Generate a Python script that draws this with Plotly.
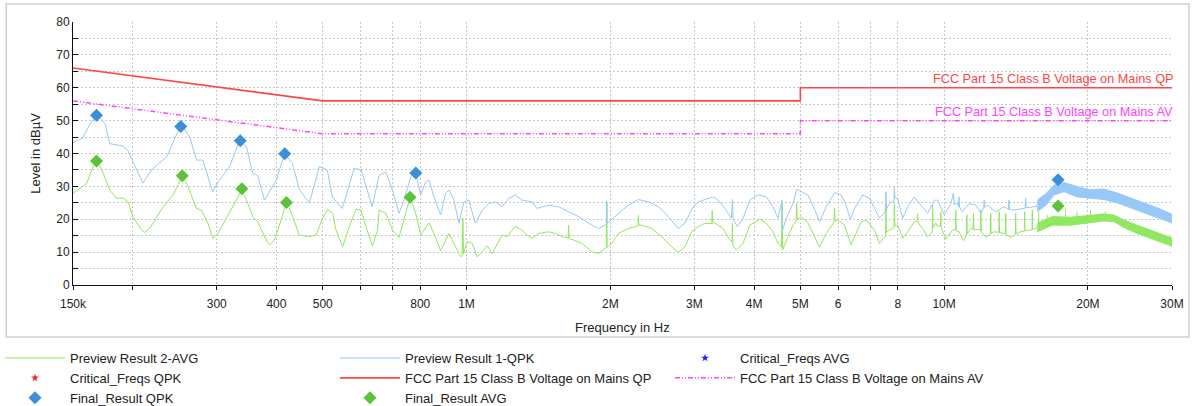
import plotly.graph_objects as go

# ---------------- data (frequencies in MHz, levels in dBµV) ----------------
qpk_f = [0.150, 0.157, 0.1628, 0.1681, 0.1749, 0.1791, 0.1906, 0.1952, 0.2100, 0.2204,
         0.2358, 0.2474, 0.2534, 0.2633, 0.2723, 0.2803, 0.2941, 0.3042, 0.3192, 0.3348,
         0.3463, 0.3565, 0.3652, 0.3776, 0.4000, 0.4157, 0.4320, 0.4468, 0.4688, 0.4919,
         0.5111, 0.5236, 0.5494, 0.5820, 0.6019, 0.6255, 0.6346, 0.6563, 0.6778, 0.6996,
         0.7225, 0.7401, 0.7643, 0.7829, 0.8018, 0.8214, 0.8346, 0.8549, 0.8827, 0.9043,
         0.9188, 0.9411, 0.9640, 0.9875, 1.011, 1.044, 1.079, 1.114, 1.150, 1.187,
         1.226, 1.266, 1.307, 1.371, 1.404, 1.486, 1.559, 1.636, 1.716, 1.801,
         1.890, 1.962, 1.966, 1.970, 2.081, 2.183, 2.291, 2.403, 2.521, 2.646,
         2.776, 2.867, 2.984, 3.057, 3.157, 3.285, 3.364, 3.474, 3.586, 3.604,
         3.616, 3.692, 3.794, 3.918, 4.078, 4.244, 4.383, 4.490, 4.577, 4.590,
         4.673, 4.825, 4.912, 5.022, 5.186, 5.312, 5.486, 5.663, 5.896, 6.087,
         6.235, 6.367, 6.492, 6.756, 6.977, 7.147, 7.320, 7.540, 7.556, 7.570,
         7.681, 7.850, 7.868, 7.885, 7.994, 8.189, 8.388, 8.663, 8.942, 9.235,
         9.538, 9.690, 10.01, 10.33, 10.46, 10.50, 10.67, 10.72, 10.75, 10.78,
         10.92, 11.29, 11.65, 11.94, 12.10, 12.13, 12.16, 12.32, 12.82, 13.36,
         13.64, 13.67, 13.70, 14.01, 14.70, 14.78, 14.81, 14.84, 15.42, 15.67]
qpk_db = [43.3, 44.6, 49.0, 51.7, 49.2, 43.0, 42.3, 41.0, 31.0, 35.5,
          39.0, 46.0, 48.6, 45.0, 38.0, 38.0, 28.4, 32.0, 36.0, 44.0,
          42.0, 34.0, 33.4, 25.8, 32.0, 40.0, 37.0, 29.0, 24.9, 36.0,
          35.0, 26.8, 23.3, 35.5, 35.0, 27.0, 23.8, 33.4, 34.4, 28.9,
          21.8, 25.8, 32.9, 34.1, 27.4, 31.4, 31.9, 26.8, 21.3, 27.9,
          28.9, 25.8, 18.8, 25.3, 25.8, 18.8, 22.8, 24.8, 25.3, 23.8,
          26.4, 27.4, 25.8, 25.3, 23.3, 24.3, 23.8, 22.3, 20.8, 18.8,
          17.2, 18.5, 25.5, 18.8, 21.8, 24.3, 26.0, 25.3, 23.8, 20.8,
          17.2, 18.8, 23.8, 25.3, 26.0, 26.8, 25.8, 23.3, 20.3, 26.0,
          20.0, 17.7, 20.3, 25.8, 27.4, 26.8, 23.8, 20.3, 25.8, 16.7,
          20.3, 24.8, 29.1, 28.4, 27.4, 24.3, 19.2, 23.8, 28.1, 27.4,
          24.3, 19.8, 23.3, 27.4, 26.4, 23.3, 20.3, 22.5, 28.4, 23.0,
          24.8, 25.5, 29.7, 26.5, 26.4, 20.3, 23.8, 26.8, 24.3, 21.8,
          25.8, 25.8, 21.3, 24.8, 27.9, 24.5, 24.8, 23.8, 26.8, 23.5,
          22.3, 24.8, 24.3, 21.8, 23.5, 25.8, 23.6, 24.3, 22.3, 23.8,
          23.0, 25.8, 23.0, 22.8, 23.3, 23.4, 26.4, 23.5, 23.8, 24.0]

# dense (noise band) part of the QPK preview, upper and lower edges
qpk_band_f = [15.67, 16.40, 16.99, 17.83, 18.99, 20.25, 21.60, 23.03, 24.55, 26.18, 27.92, 30.0]
qpk_band_hi = [25.8, 28.0, 30.4, 31.2, 29.9, 29.0, 29.2, 28.0, 26.5, 25.0, 23.5, 21.5]
qpk_band_lo = [22.3, 24.5, 27.4, 28.4, 26.8, 26.4, 26.0, 25.0, 23.5, 22.0, 20.5, 18.9]

avg_f = [0.150, 0.1564, 0.1602, 0.1653, 0.1686, 0.1735, 0.1791, 0.1850, 0.1909, 0.1955,
         0.2003, 0.2087, 0.2120, 0.2173, 0.2316, 0.2431, 0.2542, 0.2612, 0.2719, 0.2785,
         0.2875, 0.2945, 0.3017, 0.3142, 0.3243, 0.3386, 0.3485, 0.3570, 0.3657, 0.3807,
         0.3868, 0.3962, 0.4091, 0.4204, 0.4326, 0.4468, 0.4688, 0.4842, 0.4997, 0.5119,
         0.5244, 0.5330, 0.5502, 0.5682, 0.5868, 0.6010, 0.6157, 0.6356, 0.651, 0.6563,
         0.6778, 0.6996, 0.7225, 0.7401, 0.7617, 0.7829, 0.8018, 0.8346, 0.8549, 0.8827,
         0.9188, 0.9411, 0.9719, 0.9790, 0.9827, 0.9860, 1.003, 1.028, 1.052, 1.079,
         1.105, 1.132, 1.187, 1.216, 1.266, 1.307, 1.339, 1.371, 1.416, 1.486,
         1.535, 1.584, 1.632, 1.636, 1.640, 1.662, 1.744, 1.830, 1.890, 1.951,
         1.962, 1.966, 1.970, 2.015, 2.081, 2.183, 2.287, 2.291, 2.295, 2.327,
         2.442, 2.562, 2.688, 2.776, 2.867, 2.959, 3.057, 3.157, 3.262, 3.269,
         3.276, 3.312, 3.446, 3.559, 3.597, 3.604, 3.611, 3.675, 3.794, 3.918,
         4.111, 4.244, 4.383, 4.490, 4.565, 4.577, 4.590, 4.711, 4.825, 4.900,
         4.912, 4.925, 5.022, 5.186, 5.312, 5.486, 5.663, 5.880, 5.896, 5.910,
         5.991, 6.187, 6.387, 6.541, 6.701, 6.864, 7.147, 7.320, 7.540, 7.556,
         7.570, 7.681, 7.850, 7.868, 7.885, 7.994, 8.189, 8.388, 8.663, 8.790,
         8.801, 8.815, 9.016, 9.235, 9.440, 9.460, 9.480, 9.611, 9.690, 9.830,
         9.845, 9.860, 10.08, 10.41, 10.56, 10.58, 10.60, 10.75, 10.98, 11.14,
         11.16, 11.18, 11.38, 11.50, 11.52, 11.54, 11.85, 11.92, 11.94, 11.96,
         12.23, 12.50, 12.52, 12.54, 12.73, 13.02, 13.04, 13.06, 13.36, 13.44,
         13.46, 13.48, 13.78, 14.10, 14.12, 14.14, 14.46, 14.72, 14.74, 14.76,
         15.06, 15.28, 15.30, 15.32, 15.67]
avg_db = [27.9, 29.9, 30.9, 36.0, 38.0, 34.0, 28.9, 26.4, 26.5, 25.3,
          20.8, 16.7, 16.0, 17.3, 23.8, 27.4, 33.4, 29.9, 23.3, 22.8,
          18.8, 14.2, 15.7, 20.3, 23.8, 28.9, 24.8, 20.8, 19.2, 13.7,
          12.2, 13.7, 19.8, 25.3, 20.8, 15.2, 14.7, 15.2, 20.3, 23.0,
          21.8, 16.7, 11.6, 17.7, 23.0, 22.8, 17.7, 11.9, 16.7, 22.8,
          21.8, 16.7, 14.5, 19.8, 26.7, 21.8, 15.2, 18.9, 15.7, 10.4,
          15.7, 12.7, 8.6, 9.0, 20.3, 9.5, 13.2, 12.7, 8.6, 10.1,
          11.9, 9.6, 15.2, 14.7, 17.9, 16.7, 15.2, 14.2, 15.7, 16.2,
          15.7, 14.7, 14.3, 18.2, 14.0, 13.9, 12.7, 10.1, 9.6, 11.2,
          11.4, 25.3, 11.5, 12.7, 15.7, 17.2, 18.0, 21.3, 18.2, 18.2,
          17.2, 14.7, 11.6, 9.9, 11.6, 16.2, 17.7, 18.8, 18.7, 22.6,
          18.8, 18.9, 17.2, 13.7, 13.0, 18.8, 12.0, 10.6, 12.7, 18.2,
          20.0, 18.8, 16.2, 12.7, 11.5, 24.8, 10.6, 14.7, 18.2, 19.5,
          24.8, 20.0, 20.8, 18.9, 15.7, 11.5, 15.7, 19.0, 23.3, 19.5,
          19.8, 18.2, 12.2, 15.7, 19.2, 19.8, 16.7, 12.7, 15.0, 24.8,
          16.0, 16.7, 17.5, 24.8, 18.0, 18.2, 14.2, 16.2, 19.2, 19.5,
          21.8, 19.0, 17.2, 14.7, 16.0, 24.3, 17.5, 18.8, 17.9, 18.0,
          22.3, 17.5, 13.9, 16.7, 16.8, 22.8, 16.5, 16.2, 13.5, 15.0,
          21.3, 15.5, 17.2, 17.0, 21.8, 16.8, 16.9, 16.5, 22.8, 16.3,
          14.5, 15.5, 21.8, 15.7, 16.2, 16.0, 22.3, 15.9, 15.7, 15.6,
          21.8, 15.4, 14.5, 15.3, 21.8, 15.5, 16.2, 16.4, 22.3, 16.5,
          16.7, 16.8, 22.8, 16.9, 17.5]

avg_band_f = [15.67, 16.85, 18.40, 19.93, 21.60, 22.67, 23.78, 25.35, 27.03, 28.83, 30.0]
avg_band_hi = [18.8, 20.8, 20.6, 21.0, 21.6, 21.3, 19.8, 18.2, 16.7, 15.0, 14.3]
avg_band_lo = [16.2, 18.2, 18.2, 18.8, 19.5, 19.3, 17.5, 15.7, 14.2, 12.7, 11.8]

# harmonic spikes sticking out of the AVG noise band
avg_spike_f = [15.78, 16.43, 17.96, 18.99, 20.25, 21.77]
avg_spike_base = [18.5, 19.5, 20.2, 20.3, 20.5, 21.0]
avg_spike_top = [22.3, 21.3, 23.0, 22.3, 22.8, 22.3]

# final results
final_qpk_f = [0.168, 0.2522, 0.336, 0.4163, 0.783, 17.32]
final_qpk_db = [51.6, 48.2, 43.9, 39.9, 34.1, 32.0]
final_avg_f = [0.168, 0.254, 0.3386, 0.4197, 0.7617, 17.32]
final_avg_db = [37.7, 33.2, 29.3, 25.1, 26.7, 24.0]

# FCC Part 15 Class B limits
lim_qp_f = [0.15, 0.5, 5.0, 5.0, 30.0]
lim_qp_db = [66.0, 56.0, 56.0, 60.0, 60.0]
lim_av_f = [0.15, 0.5, 5.0, 5.0, 30.0]
lim_av_db = [56.0, 46.0, 46.0, 50.0, 50.0]

x_tickvals = [0.15, 0.2, 0.3, 0.4, 0.5, 0.6, 0.7, 0.8, 1, 2, 3, 4, 5, 6, 7, 8, 10, 20, 30]
x_ticktext = ["150k", "", "300", "400", "500", "", "", "800", "1M", "2M", "3M", "4M",
              "5M", "6", "", "8", "10M", "20M", "30M"]
y_tickvals = [0, 10, 20, 30, 40, 50, 60, 70, 80]

# ---------------- styling ----------------
FONT = "Liberation Sans, Arial, Helvetica, sans-serif"
C_QPK = "#98c8f7"
C_AVG = "#8fe860"
C_QPK_MK = "#3b8fd8"
C_AVG_MK = "#5cc238"
C_QP = "#ff4545"
C_AV = "#ff44ff"

W, H = 1196, 406
L, R, T, B = 73, 20, 22, 121
PW, PH = W - L - R, H - T - B

fig = go.Figure()

# preview AVG
fig.add_trace(go.Scatter(x=avg_f, y=avg_db, mode="lines", name="Preview Result 2-AVG",
                         line=dict(color=C_AVG, width=1), legendrank=1))
fig.add_trace(go.Scatter(x=avg_band_f + avg_band_f[::-1], y=avg_band_hi + avg_band_lo[::-1],
                         mode="lines", fill="toself", fillcolor=C_AVG,
                         line=dict(color=C_AVG, width=1), showlegend=False, hoverinfo="skip"))
sx, sy = [], []
for f, b, t in zip(avg_spike_f, avg_spike_base, avg_spike_top):
    sx += [f, f, None]
    sy += [b, t, None]
fig.add_trace(go.Scatter(x=sx, y=sy, mode="lines", line=dict(color=C_AVG, width=1),
                         showlegend=False, hoverinfo="skip"))

# preview QPK
fig.add_trace(go.Scatter(x=qpk_f, y=qpk_db, mode="lines", name="Preview Result 1-QPK",
                         line=dict(color=C_QPK, width=1), legendrank=2))
fig.add_trace(go.Scatter(x=qpk_band_f + qpk_band_f[::-1], y=qpk_band_hi + qpk_band_lo[::-1],
                         mode="lines", fill="toself", fillcolor=C_QPK,
                         line=dict(color=C_QPK, width=1), showlegend=False, hoverinfo="skip"))

# limit lines
fig.add_trace(go.Scatter(x=lim_qp_f, y=lim_qp_db, mode="lines", name="FCC Part 15 Class B Voltage on Mains QP",
                         line=dict(color=C_QP, width=1.6), legendrank=5, hoverinfo="skip"))
fig.add_trace(go.Scatter(x=lim_av_f, y=lim_av_db, mode="lines", name="FCC Part 15 Class B Voltage on Mains AV",
                         line=dict(color=C_AV, width=1.5, dash="5px,2px,1px,2px,1px,2px"),
                         legendrank=6, hoverinfo="skip"))

# critical freqs (no points in this scan)
fig.add_trace(go.Scatter(x=[None], y=[None], mode="markers", name="Critical_Freqs AVG",
                         marker=dict(symbol="star", size=6, color="#2020ff"), legendrank=3))
fig.add_trace(go.Scatter(x=[None], y=[None], mode="markers", name="Critical_Freqs QPK",
                         marker=dict(symbol="star", size=6, color="#ff2020"), legendrank=4))

# final results
fig.add_trace(go.Scatter(x=final_qpk_f, y=final_qpk_db, mode="markers", name="Final_Result QPK",
                         marker=dict(symbol="diamond", size=10, color=C_QPK_MK), legendrank=7))
fig.add_trace(go.Scatter(x=final_avg_f, y=final_avg_db, mode="markers", name="Final_Result AVG",
                         marker=dict(symbol="diamond", size=10, color=C_AVG_MK), legendrank=8))

grid = dict(gridcolor="#c8c8c8", griddash="2px,2px", gridwidth=1)

fig.update_layout(
    width=W, height=H, autosize=False,
    margin=dict(l=L, r=R, t=T, b=B, pad=0),
    paper_bgcolor="white", plot_bgcolor="white",
    font=dict(family=FONT, size=12, color="#222222"),
    xaxis=dict(type="log", range=[-0.823909, 1.477121], tickvals=x_tickvals, ticktext=x_ticktext,
               showline=True, linecolor="#111111", linewidth=1, ticks="outside", ticklen=4,
               tickcolor="#111111", zeroline=False, showgrid=True, **grid,
               ticklabelstandoff=4,
               tickfont=dict(size=12, color="#222222")),
    yaxis=dict(range=[0, 80], tickvals=y_tickvals, showline=True, linecolor="#111111", linewidth=1,
               ticks="inside", ticklen=5, tickcolor="#111111", zeroline=False, showgrid=True, **grid,
               minor=dict(dtick=5, ticks="inside", ticklen=5, tickcolor="#111111", showgrid=True,
                          gridcolor="#c8c8c8", griddash="2px,2px"),
               tickfont=dict(size=12, color="#222222")),
    showlegend=True,
    legend=dict(orientation="h", xref="container", yref="container",
                x=-7 / W, y=1 - 343 / H, xanchor="left", yanchor="top",
                entrywidth=260, entrywidthmode="pixels", itemwidth=60,
                traceorder="normal", bgcolor="rgba(0,0,0,0)", borderwidth=0,
                font=dict(family=FONT, size=13, color="#222222")),
)

# outer frame
fig.add_shape(type="rect", xref="paper", yref="paper",
              x0=(6 - L) / PW, x1=(1193 - L) / PW,
              y0=(285 - 337) / PH, y1=(285 - 4) / PH,
              line=dict(color="#cfcfcf", width=1.5), fillcolor="rgba(0,0,0,0)", layer="below")

# axis titles
fig.add_annotation(text="Frequency in Hz", xref="paper", yref="paper", x=0.5, y=(285 - 327) / PH,
                   showarrow=False, xanchor="center", yanchor="middle",
                   font=dict(size=13, color="#222222"))
fig.add_annotation(text="Level in dBµV", xref="paper", yref="paper", x=(35 - L) / PW, y=0.5,
                   textangle=-90, showarrow=False, xanchor="center", yanchor="middle",
                   font=dict(size=13, color="#222222"))

# limit line labels
fig.add_annotation(text="FCC Part 15 Class B Voltage on Mains QP", xref="paper", y=60, yref="y",
                   x=1.003, xanchor="right", yanchor="bottom", showarrow=False,
                   font=dict(size=12.7, color=C_QP))
fig.add_annotation(text="FCC Part 15 Class B Voltage on Mains AV", xref="paper", y=50, yref="y",
                   x=1.003, xanchor="right", yanchor="bottom", showarrow=False,
                   font=dict(size=12.7, color=C_AV))

fig.write_html("out.html", config={"displayModeBar": False},
               post_script="document.body.style.margin='0';document.body.style.overflow='hidden';")
